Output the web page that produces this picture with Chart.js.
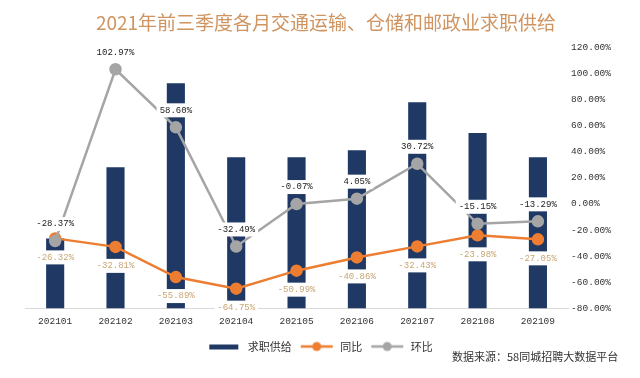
<!DOCTYPE html>
<html>
<head>
<meta charset="utf-8">
<script src="https://cdn.jsdelivr.net/npm/chart.js@4.4.0/dist/chart.umd.min.js"></script>
<style>
  body { margin: 0; background: #fff; }
  #wrap { position: relative; width: 640px; height: 378px; }
  #title { position: absolute; left: 0; top: 8px; width: 652px; text-align: center;
           font: 19px "Noto Sans CJK SC", sans-serif; color: #CF9460; white-space: nowrap; }
  #source { position: absolute; left: 452px; top: 348px;
            font: 11px "Noto Sans CJK SC", sans-serif; color: #333; white-space: nowrap; }
</style>
</head>
<body>
<div id="wrap">
  <canvas id="mainChart" width="640" height="378"></canvas>
  <div id="title">2021年前三季度各月交通运输、仓储和邮政业求职供给</div>
  <div id="source">数据来源：58同城招聘大数据平台</div>
</div>
<script>
const months = ['202101', '202102', '202103', '202104', '202105', '202106', '202107', '202108', '202109'];
// bar heights (left axis is hidden)
const supply = [32.2, 64.8, 103.4, 69.4, 69.4, 72.6, 94.7, 80.5, 69.4];
const yoy = [-26.32, -32.81, -55.89, -64.75, -50.99, -40.86, -32.43, -23.98, -27.05];
const mom = [-28.37, 102.97, 58.60, -32.49, -0.07, 4.05, 30.72, -15.15, -13.29];
const rightTicks = [-80, -60, -40, -20, 0, 20, 40, 60, 80, 100, 120];

const navy = '#1f3864';
const orange = '#ED7D31';
const grey = '#A5A5A5';
const monoFont = '"Liberation Mono", monospace';

// legend icons: wide canvas with a little blank margin on both sides
function legendIcon(kind, color) {
    const c = document.createElement('canvas');
    c.width = 36; c.height = 12;
    const g = c.getContext('2d');
    g.fillStyle = color;
    g.strokeStyle = color;
    if (kind === 'bar') {
        g.fillRect(3, 4, 29, 5);
    } else {
        g.lineWidth = 2.5;
        g.beginPath(); g.moveTo(2, 6); g.lineTo(34, 6); g.stroke();
        g.beginPath(); g.arc(18, 6, 4.5, 0, Math.PI * 2); g.fill();
    }
    return c;
}
const icons = [legendIcon('bar', navy), legendIcon('line', orange), legendIcon('line', grey)];

const valueLabels = {
    id: 'valueLabels',
    afterDatasetsDraw(chart) {
        const ctx = chart.ctx;
        ctx.save();
        ctx.font = '9px ' + monoFont;
        ctx.textAlign = 'center';
        ctx.textBaseline = 'middle';
        [[1, 19, '#C9A574'], [2, -17, '#222']].forEach(([di, off, col]) => {
            const meta = chart.getDatasetMeta(di);
            const vals = chart.data.datasets[di].data;
            meta.data.forEach((pt, i) => {
                const txt = vals[i].toFixed(2) + '%';
                const w = ctx.measureText(txt).width;
                const y = pt.y + off;
                ctx.fillStyle = '#fff';
                ctx.fillRect(pt.x - w / 2 - 3, y - 7, w + 6, 14);
                ctx.fillStyle = col;
                ctx.fillText(txt, pt.x, y);
            });
        });
        ctx.restore();
    }
};

new Chart(document.getElementById('mainChart'), {
    data: {
        labels: months,
        datasets: [{
            type: 'bar',
            label: '求职供给',
            data: supply,
            backgroundColor: navy,
            yAxisID: 'yBar',
            categoryPercentage: 1,
            barPercentage: 0.3,
            order: 2
        }, {
            type: 'line',
            label: '同比',
            data: yoy,
            borderColor: orange,
            backgroundColor: orange,
            borderWidth: 2.5,
            pointRadius: 5,
            pointHoverRadius: 5,
            yAxisID: 'y',
            order: 1
        }, {
            type: 'line',
            label: '环比',
            data: mom,
            borderColor: grey,
            backgroundColor: grey,
            borderWidth: 2.5,
            pointRadius: 5,
            pointHoverRadius: 5,
            yAxisID: 'y',
            order: 0
        }]
    },
    options: {
        responsive: false,
        animation: false,
        layout: { padding: { top: 47, left: 25, right: 26, bottom: 16 } },
        plugins: {
            tooltip: { enabled: false },
            legend: {
                position: 'bottom',
                labels: {
                    usePointStyle: true,
                    pointStyleWidth: 36,
                    color: '#333',
                    font: { size: 11, family: '"Noto Sans CJK SC", sans-serif' },
                    padding: 7,
                    sort: (a, b) => a.datasetIndex - b.datasetIndex,
                    generateLabels(chart) {
                        const items = Chart.defaults.plugins.legend.labels.generateLabels(chart);
                        items.forEach(it => { it.pointStyle = icons[it.datasetIndex]; });
                        return items;
                    }
                }
            }
        },
        scales: {
            x: {
                grid: { display: false, drawTicks: false },
                border: { color: '#d9d9d9', width: 1 },
                ticks: { color: '#333', font: { size: 9.5, family: monoFont }, padding: 7 }
            },
            yBar: {
                display: false,
                min: 0,
                max: 120
            },
            y: {
                position: 'right',
                min: -80,
                max: 120,
                afterBuildTicks(axis) { axis.ticks = rightTicks.map(v => ({ value: v })); },
                grid: { display: false, drawTicks: false },
                border: { display: false },
                ticks: {
                    color: '#333',
                    font: { size: 9.5, family: monoFont },
                    padding: 3,
                    callback: v => v.toFixed(2) + '%'
                }
            }
        }
    },
    plugins: [valueLabels]
});
</script>
</body>
</html>
